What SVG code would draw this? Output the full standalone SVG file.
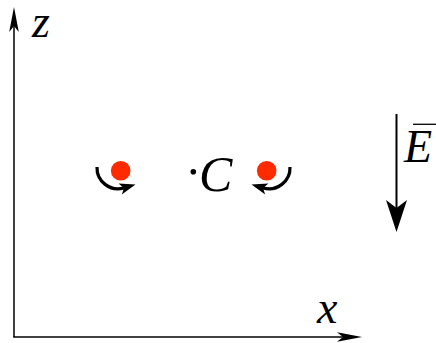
<svg xmlns="http://www.w3.org/2000/svg" width="436" height="343" viewBox="0 0 436 343">
<style>
.ax{stroke:#000;stroke-width:1.5;fill:none}
.rot{stroke:#000;stroke-width:3.2;fill:none}
.ion{fill:#ff2a00}
.lbl{font-family:"Liberation Serif","Times New Roman",serif;font-style:italic;fill:#000}
</style>
<defs>
<marker id="axh" markerUnits="userSpaceOnUse" markerWidth="40" markerHeight="40" refX="0" refY="0" orient="auto" overflow="visible">
<path d="M19,0 L-6,-4.8 L0,0 L-6,4.8 Z" fill="#000"/>
</marker>
<marker id="eh" markerUnits="userSpaceOnUse" markerWidth="60" markerHeight="60" refX="0" refY="0" orient="auto" overflow="visible">
<path d="M24,0 L-8,-10.5 L0,0 L-8,10.5 Z" fill="#000"/>
</marker>
<marker id="rh" markerUnits="userSpaceOnUse" markerWidth="30" markerHeight="30" refX="0" refY="0" orient="auto" overflow="visible">
<path d="M12,0 L-4,-5.8 L0,0 L-4,5.8 Z" fill="#000"/>
</marker>
</defs>
<g id="connectors">
<path id="z-axis" class="ax" d="M14,337 L14,26" marker-end="url(#axh)"/>
<path id="x-axis" class="ax" d="M13.25,337 L343,337" marker-end="url(#axh)"/>
<path id="field-arrow" class="ax" style="stroke-width:2" d="M396.5,114 L396.5,208" marker-end="url(#eh)"/>
<path id="rot-left" class="rot" d="M97,167 A21,21 0 0 0 124,187.9" marker-end="url(#rh)"/>
<path id="rot-right" class="rot" d="M290,167 A21,21 0 0 1 263,187.9" marker-end="url(#rh)"/>
</g>
<g id="ion-left"><circle class="ion" cx="120.7" cy="170.7" r="9.8"/></g>
<g id="ion-right"><circle class="ion" cx="266.7" cy="170.7" r="9.8"/></g>
<g id="center-C">
<circle cx="193.3" cy="171.7" r="2.8" fill="#000"/>
<text class="lbl" x="199" y="191" font-size="50">C</text>
</g>
<g id="label-z"><text class="lbl" x="32" y="37" font-size="46">z</text></g>
<g id="label-x"><text class="lbl" x="317" y="323" font-size="46">x</text></g>
<g id="label-E">
<text class="lbl" x="404" y="162" font-size="46">E</text>
<path d="M413,124.3 L436,124.3" stroke="#000" stroke-width="1.3"/>
</g>
</svg>
